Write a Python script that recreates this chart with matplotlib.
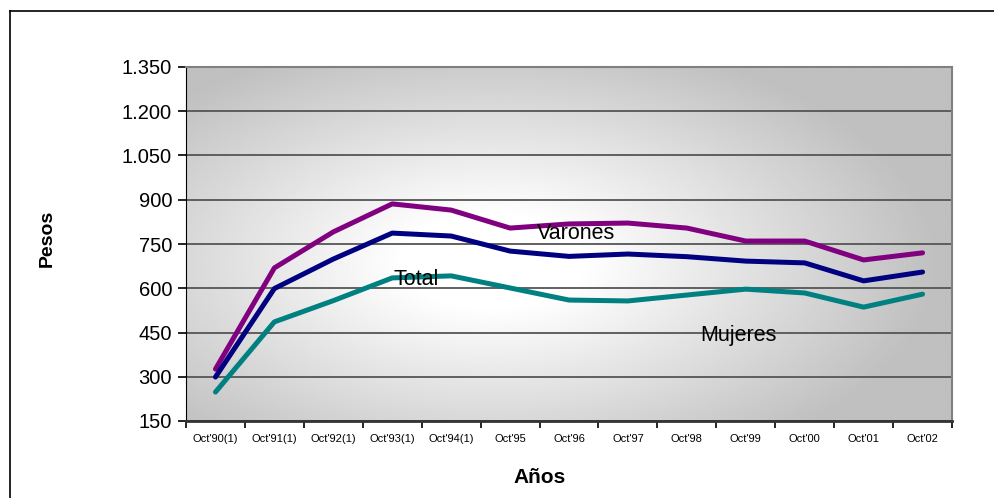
import numpy as np
import matplotlib
matplotlib.use("Agg")
import matplotlib.pyplot as plt
from matplotlib.lines import Line2D

plt.rcParams["font.family"] = ["Liberation Sans", "DejaVu Sans"]

categories = ["Oct'90(1)", "Oct'91(1)", "Oct'92(1)", "Oct'93(1)", "Oct'94(1)", "Oct'95",
              "Oct'96", "Oct'97", "Oct'98", "Oct'99", "Oct'00", "Oct'01", "Oct'02"]
varones = [326, 669, 791, 886, 865, 804, 818, 821, 804, 760, 760, 696, 720]
total = [299, 599, 699, 787, 777, 726, 708, 716, 707, 692, 686, 625, 655]
mujeres = [248, 486, 558, 635, 642, 601, 560, 557, 577, 597, 584, 536, 580]
y_ticks = [150, 300, 450, 600, 750, 900, 1050, 1200, 1350]
y_labels = ["150", "300", "450", "600", "750", "900", "1.050", "1.200", "1.350"]

W, H = 995, 498
fig = plt.figure(figsize=(W / 100, H / 100), dpi=100)
ax = fig.add_axes([186 / W, 1 - 421 / H, (952 - 186) / W, (421 - 67) / H])

# radial grey gradient behind the plot area
gx, gy = np.meshgrid(np.linspace(0, 1, 400), np.linspace(0, 1, 200))
r = np.sqrt(((gx - 0.40) / 0.58) ** 2 + ((gy - 0.45) / 0.65) ** 2)
shade = np.clip(192 + 63 * (1 - r) * 1.25, 192, 255) / 255.0
ax.imshow(shade, cmap="gray", vmin=0, vmax=1, extent=(0, 1, 0, 1), origin="lower",
          transform=ax.transAxes, aspect="auto", zorder=0, interpolation="bilinear")

x = np.arange(len(categories))
ax.plot(x, varones, color="#800080", lw=3.6, zorder=3, solid_capstyle="round")
ax.plot(x, total, color="#000080", lw=3.6, zorder=3, solid_capstyle="round")
ax.plot(x, mujeres, color="#008080", lw=3.6, zorder=3, solid_capstyle="round")

ax.set_xlim(-0.5, len(categories) - 0.5)
ax.set_ylim(150, 1350)
ax.set_yticks(y_ticks)
ax.set_yticklabels(y_labels, fontsize=14.5)
ax.yaxis.grid(True, color="#555555", lw=1.3, zorder=1)
ax.set_axisbelow(True)

ax.set_xticks(x)
ax.set_xticklabels(categories, fontsize=8)
ax.set_xticks(np.arange(len(categories) + 1) - 0.5, minor=True)
ax.tick_params(axis="x", which="major", length=0, pad=9)
ax.tick_params(axis="x", which="minor", length=5, width=1.2, color="black")
ax.tick_params(axis="y", length=6, width=1.2, color="black", pad=4)

for side in ["top", "right"]:
    ax.spines[side].set_color("#808080")
    ax.spines[side].set_linewidth(1.5)
ax.spines["left"].set_color("black")
ax.spines["bottom"].set_color("#333333")
ax.spines["bottom"].set_linewidth(2)

ax.text(6.12, 784, "Varones", fontsize=15.5, ha="center", va="center", zorder=4)
ax.text(3.40, 631, "Total", fontsize=15.5, ha="center", va="center", zorder=4)
ax.text(8.87, 441, "Mujeres", fontsize=15.5, ha="center", va="center", zorder=4)

fig.text(47 / W, 1 - 238 / H, "Pesos", rotation=90, fontsize=14, fontweight="bold",
         ha="center", va="center")
fig.text(540 / W, 1 - 477 / H, "Años", fontsize=15, fontweight="bold",
         ha="center", va="center")

# outer chart border (left and top visible)
fig.add_artist(Line2D([9.5 / W, 9.5 / W], [0, 1 - 11 / H], color="black", lw=1.2))
fig.add_artist(Line2D([9.5 / W, 1], [1 - 11 / H, 1 - 11 / H], color="black", lw=1.2))

fig.savefig("out.png", dpi=100)
